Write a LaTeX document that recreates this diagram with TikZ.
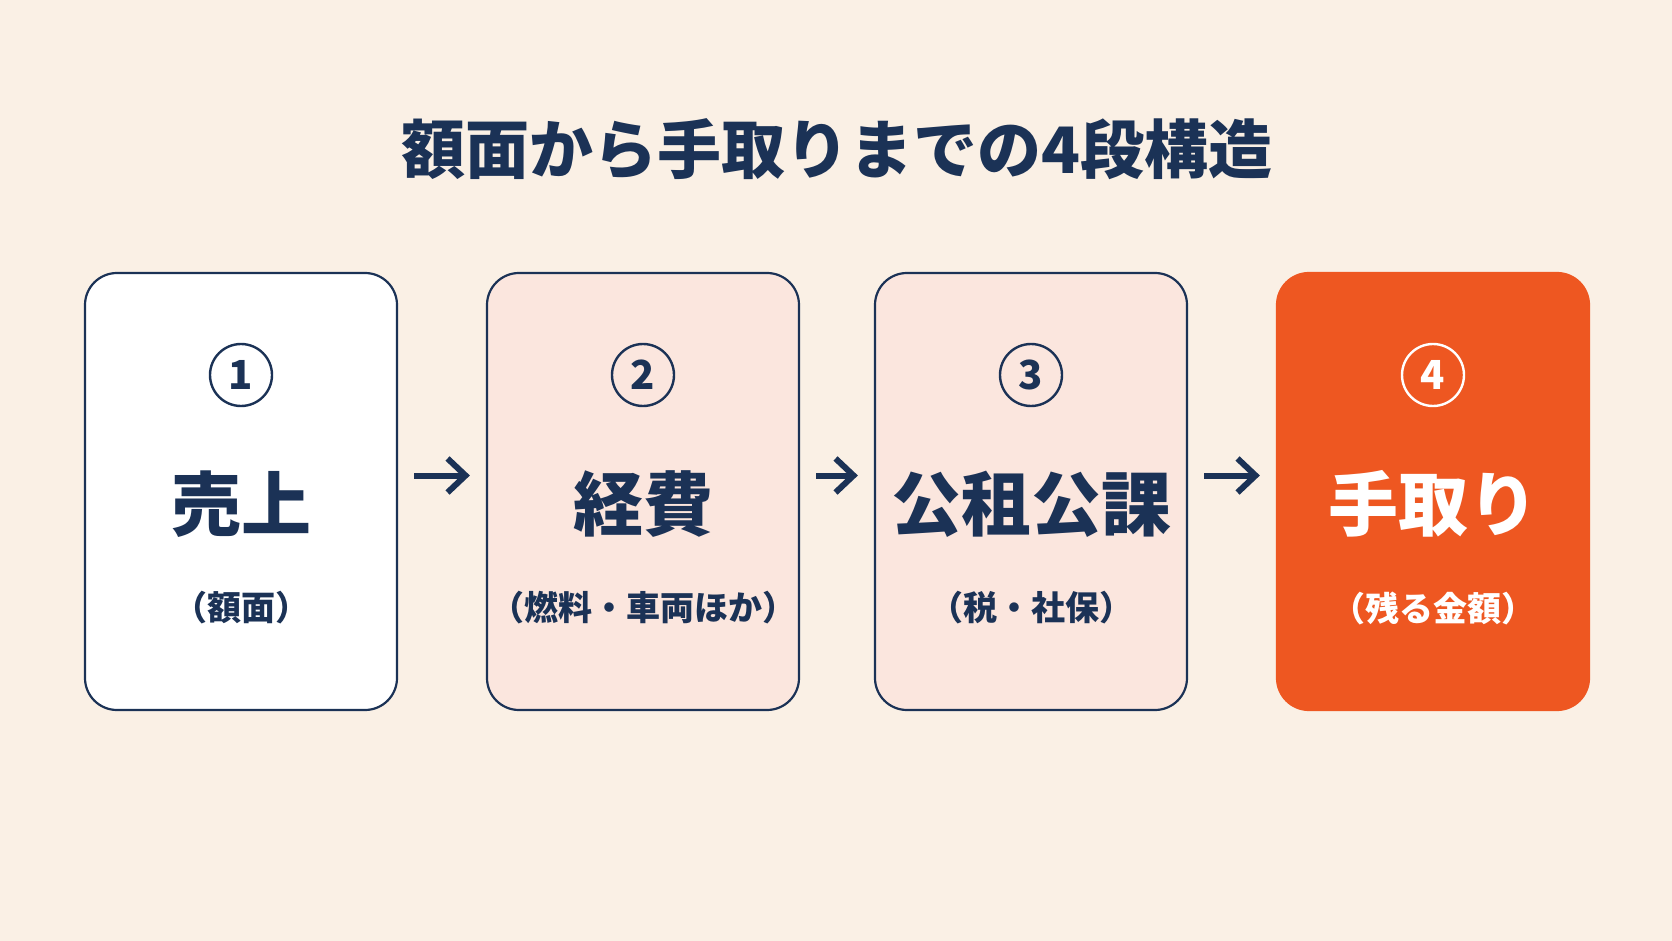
\documentclass[tikz,border=0pt]{standalone}
\usepackage{fontspec}
\newfontfamily\cjk{Noto Sans CJK JP}
\usetikzlibrary{arrows.meta}
\definecolor{bg}{RGB}{250,240,229}
\definecolor{navy}{RGB}{27,50,86}
\definecolor{pinkf}{RGB}{251,230,222}
\definecolor{orng}{RGB}{238,87,33}
\begin{document}
\begin{tikzpicture}[x=0.5pt,y=-0.5pt,
  box/.style={draw=navy,line width=1.1pt,rounded corners=16pt,minimum width=156pt,minimum height=218.5pt,inner sep=0},
  num/.style={circle,draw=navy,line width=1.2pt,minimum size=31pt,inner sep=0,text=navy,font=\cjk\bfseries\fontsize{20}{20}\selectfont},
  big/.style={text=navy,font=\cjk\bfseries\fontsize{35}{35}\selectfont},
  sub/.style={text=navy,font=\cjk\bfseries\fontsize{17}{17}\selectfont},
  arr/.style={draw=navy,line width=3pt,-{Straight Barb[length=9pt,width=17pt,line width=3pt]},shorten <=8pt,shorten >=8pt}]
\fill[bg] (0,0) rectangle (1672,941);
\useasboundingbox (0,0) rectangle (1672,941);
\node[text=navy,font=\cjk\bfseries\fontsize{32}{32}\selectfont] (title) at (837,149) {額面から手取りまでの4段構造};
\node[box,fill=white] (b1) at (241,491.5) {};
\node[box,fill=pinkf] (b2) at (643,491.5) {};
\node[box,fill=pinkf] (b3) at (1031,491.5) {};
\node[box,fill=orng,draw=orng] (b4) at (1433,491.5) {};
\foreach \b/\n/\t/\s in {b1/1/売上/（額面）, b2/2/経費/（燃料・車両ほか）, b3/3/公租公課/（税・社保）}{
  \node[num] (\b n) at (\b.center |- 0,375) {\n};
  \node[big] (\b t) at (\b.center |- 0,504) {\t};
  \node[sub] (\b s) at (\b.center |- 0,608) {\s};
}
\node[num,draw=white,text=white] (b4n) at (b4.center |- 0,375) {4};
\node[big,text=white] (b4t) at (b4.center |- 0,504) {手取り};
\node[sub,text=white] (b4s) at (b4.center |- 0,608) {（残る金額）};
\draw[arr] ([yshift=8pt]b1.east) -- ([yshift=8pt]b2.west);
\draw[arr] ([yshift=8pt]b2.east) -- ([yshift=8pt]b3.west);
\draw[arr] ([yshift=8pt]b3.east) -- ([yshift=8pt]b4.west);
\end{tikzpicture}
\end{document}
